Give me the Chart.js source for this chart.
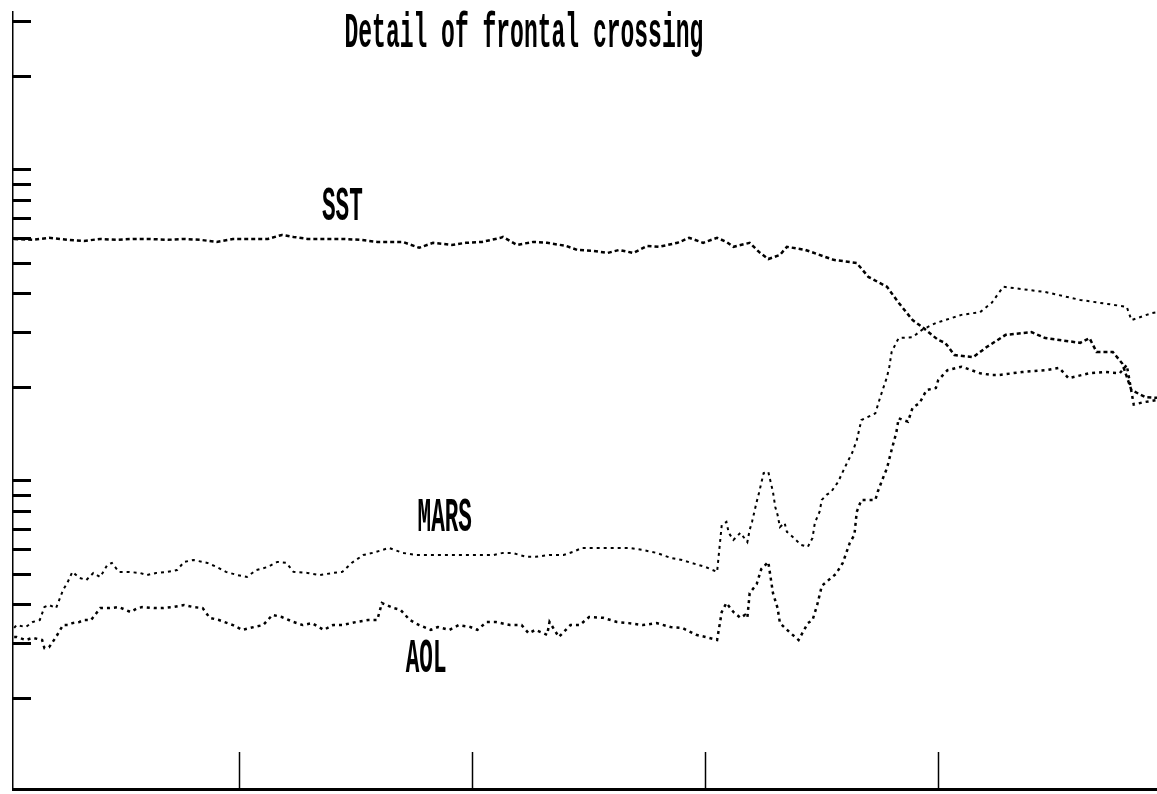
<!DOCTYPE html>
<html>
<head>
<meta charset="utf-8">
<script src="https://cdn.jsdelivr.net/npm/chart.js@4.4.1/dist/chart.umd.min.js"></script>
<style>
  html, body { margin: 0; padding: 0; background: #fff; }
  #wrap { width: 1157px; height: 794px; }
</style>
</head>
<body>
<div id="wrap"><canvas id="c" width="1157" height="794"></canvas></div>
<script>
// ---- data (x: along-track units, y: log-scaled values) ----
const sstX = [0.03,0.11,0.18,0.26,0.33,0.40,0.47,0.54,0.61,0.69,0.76,0.83,0.90,0.97,1.04,1.12,1.18,1.23,1.29,1.36,1.44,1.52,1.59,1.66,1.70,1.77,1.83,1.91,1.97,2.04,2.12,2.13,2.19,2.26,2.32,2.40,2.45,2.52,2.58,2.63,2.69,2.75,2.80,2.88,2.93,2.99,3.05,3.09,3.12,3.19,3.23,3.27,3.32,3.35,3.43,3.55,3.65,3.70,3.78,3.83,3.89,3.93,4.00,4.03,4.07,4.15,4.21,4.29,4.40,4.46,4.61,4.65,4.68,4.75,4.79,4.83,4.89,4.94];
const sstY = [6.00,5.96,6.05,5.96,5.91,6.00,5.96,6.00,6.00,5.96,6.00,5.96,5.87,6.00,6.00,6.00,6.18,6.09,6.00,6.00,6.00,5.96,5.87,5.87,5.87,5.62,5.83,5.74,5.83,5.87,6.05,6.09,5.74,5.87,5.83,5.70,5.53,5.49,5.41,5.53,5.41,5.70,5.66,5.83,6.05,5.83,6.05,5.87,5.66,5.83,5.45,5.17,5.33,5.66,5.53,5.14,5.02,4.53,4.21,3.74,3.29,3.13,2.84,2.78,2.54,2.50,2.70,2.95,3.01,2.88,2.78,2.88,2.60,2.60,2.39,1.96,1.86,1.85];

const marsX = [0.03,0.04,0.08,0.11,0.14,0.16,0.18,0.21,0.24,0.26,0.28,0.31,0.34,0.37,0.40,0.43,0.45,0.48,0.52,0.57,0.60,0.64,0.69,0.73,0.76,0.80,0.86,0.90,0.94,0.99,1.03,1.07,1.12,1.16,1.20,1.23,1.29,1.34,1.40,1.44,1.48,1.53,1.57,1.64,1.70,1.76,1.85,1.93,2.02,2.09,2.13,2.17,2.23,2.27,2.33,2.39,2.43,2.47,2.53,2.59,2.67,2.73,2.79,2.85,2.90,2.94,3.00,3.05,3.07,3.09,3.10,3.12,3.15,3.18,3.19,3.20,3.22,3.23,3.24,3.25,3.27,3.28,3.29,3.30,3.31,3.32,3.34,3.35,3.38,3.41,3.44,3.46,3.47,3.49,3.50,3.52,3.54,3.57,3.59,3.61,3.63,3.65,3.67,3.73,3.75,3.78,3.79,3.80,3.83,3.89,3.93,3.99,4.10,4.18,4.23,4.26,4.28,4.46,4.61,4.81,4.83,4.92,4.94];
const marsY = [0.337,0.344,0.339,0.352,0.357,0.393,0.399,0.390,0.446,0.473,0.510,0.488,0.480,0.506,0.491,0.537,0.545,0.510,0.510,0.506,0.498,0.506,0.510,0.517,0.549,0.557,0.545,0.529,0.510,0.498,0.491,0.517,0.529,0.549,0.545,0.510,0.506,0.498,0.506,0.510,0.545,0.578,0.587,0.609,0.587,0.578,0.578,0.578,0.578,0.578,0.587,0.587,0.570,0.570,0.578,0.578,0.591,0.609,0.609,0.609,0.609,0.600,0.587,0.566,0.557,0.545,0.529,0.510,0.722,0.738,0.681,0.646,0.681,0.636,0.696,0.738,0.856,0.915,0.985,1.06,1.07,0.993,0.922,0.825,0.777,0.711,0.733,0.686,0.656,0.623,0.614,0.656,0.733,0.795,0.869,0.902,0.922,0.993,1.07,1.15,1.23,1.35,1.57,1.65,1.85,2.16,2.33,2.60,2.88,2.90,3.06,3.22,3.42,3.49,3.74,4.02,4.21,4.05,3.82,3.63,3.29,3.47,3.49];

const aolX = [0.03,0.04,0.08,0.11,0.15,0.16,0.18,0.21,0.24,0.26,0.28,0.31,0.33,0.36,0.40,0.44,0.48,0.53,0.56,0.58,0.63,0.67,0.71,0.76,0.80,0.84,0.87,0.91,0.97,1.01,1.06,1.10,1.14,1.18,1.23,1.27,1.31,1.36,1.40,1.44,1.50,1.55,1.59,1.61,1.66,1.69,1.73,1.77,1.82,1.85,1.90,1.94,1.99,2.02,2.06,2.10,2.16,2.21,2.24,2.27,2.32,2.33,2.37,2.42,2.46,2.50,2.56,2.62,2.67,2.73,2.79,2.85,2.90,2.96,3.00,3.05,3.07,3.09,3.12,3.15,3.17,3.18,3.19,3.22,3.24,3.27,3.29,3.31,3.32,3.36,3.40,3.44,3.46,3.48,3.50,3.54,3.56,3.59,3.62,3.64,3.65,3.67,3.73,3.74,3.76,3.78,3.80,3.82,3.83,3.87,3.89,3.92,3.95,3.99,4.00,4.04,4.10,4.18,4.23,4.26,4.36,4.46,4.52,4.56,4.65,4.72,4.78,4.81,4.84,4.88,4.94];
const aolY = [0.315,0.315,0.308,0.313,0.308,0.290,0.292,0.315,0.344,0.344,0.349,0.352,0.357,0.357,0.390,0.390,0.393,0.379,0.390,0.393,0.390,0.390,0.393,0.399,0.393,0.390,0.363,0.357,0.344,0.332,0.339,0.344,0.371,0.365,0.352,0.344,0.349,0.332,0.344,0.344,0.352,0.357,0.357,0.405,0.390,0.385,0.357,0.344,0.332,0.339,0.332,0.344,0.339,0.332,0.352,0.352,0.344,0.344,0.324,0.332,0.320,0.352,0.315,0.344,0.344,0.365,0.363,0.352,0.349,0.344,0.349,0.339,0.337,0.320,0.315,0.308,0.379,0.405,0.379,0.363,0.371,0.363,0.436,0.466,0.521,0.549,0.436,0.390,0.349,0.327,0.308,0.349,0.357,0.399,0.460,0.488,0.502,0.545,0.632,0.671,0.795,0.869,0.869,0.922,1.01,1.10,1.26,1.43,1.59,1.55,1.72,1.78,1.96,1.99,2.11,2.27,2.33,2.22,2.19,2.19,2.24,2.27,2.31,2.14,2.22,2.24,2.22,2.36,1.76,1.79,1.82];

const xTickValues = [1, 2, 3, 4];
const yTickValues = [0.2,0.3,0.4,0.5,0.6,0.7,0.8,0.9,1,2,3,4,5,6,7,8,9,10,20,30];

const titleText = 'Detail of frontal crossing';
const labelTexts = ['SST', 'MARS', 'AOL'];
const labelX = [1.44, 1.88, 1.80];
const labelY = [6.9, 0.691, 0.243];
const titleAt = [2.22, 24.9];

// ---- helpers ----
function pts(xs, ys) { return xs.map((x, i) => ({ x: x, y: ys[i] })); }

function drawCondensed(ctx, text, cx, by, size, advance) {
  ctx.save();
  ctx.font = 'bold ' + size + 'px "Liberation Mono", "DejaVu Sans Mono", monospace';
  const w = ctx.measureText(text).width;
  const sx = (advance * text.length) / w;
  ctx.translate(cx, by);
  ctx.scale(sx, 1);
  ctx.textAlign = 'center';
  ctx.textBaseline = 'alphabetic';
  ctx.fillStyle = '#000';
  ctx.fillText(text, 0, 0);
  ctx.restore();
}

const textPlugin = {
  id: 'plotterText',
  afterDraw(chart) {
    const ctx = chart.ctx, xs = chart.scales.x, ys = chart.scales.y;
    drawCondensed(ctx, titleText, xs.getPixelForValue(titleAt[0]), ys.getPixelForValue(titleAt[1]), 50, 13.8);
    labelTexts.forEach((t, i) => {
      drawCondensed(ctx, t, xs.getPixelForValue(labelX[i]), ys.getPixelForValue(labelY[i]), 48, 13.6);
    });
  }
};

const lineStyle = (dash, w) => ({
  borderColor: '#000', borderWidth: w, borderDash: dash,
  pointRadius: 0, tension: 0, fill: false
});

new Chart(document.getElementById('c'), {
  type: 'line',
  data: {
    datasets: [
      Object.assign({ label: 'SST', data: pts(sstX, sstY) }, lineStyle([4, 3], 2.5)),
      Object.assign({ label: 'MARS', data: pts(marsX, marsY) }, lineStyle([3, 4], 2)),
      Object.assign({ label: 'AOL', data: pts(aolX, aolY) }, lineStyle([3, 4], 2.5))
    ]
  },
  options: {
    responsive: false,
    animation: false,
    devicePixelRatio: 1,
    layout: { padding: { top: 12, right: 0, bottom: 0, left: 0 } },
    plugins: { legend: { display: false }, title: { display: false }, tooltip: { enabled: false } },
    scales: {
      x: {
        type: 'linear', position: 'bottom', min: 0.025, max: 4.94,
        afterBuildTicks: (s) => { s.ticks = xTickValues.map(v => ({ value: v })); },
        afterFit: (s) => { s.height = 5; },
        ticks: { display: false },
        grid: { drawOnChartArea: false, drawTicks: true, tickLength: -37, tickWidth: 1.5, tickColor: '#000' },
        border: { display: true, color: '#000', width: 3 }
      },
      y: {
        type: 'logarithmic', position: 'left', min: 0.1022, max: 32.2,
        afterBuildTicks: (s) => { s.ticks = yTickValues.map(v => ({ value: v })); },
        afterFit: (s) => { s.width = 13; },
        ticks: { display: false },
        grid: { drawOnChartArea: false, drawTicks: true, tickLength: -18, tickWidth: 3, tickColor: '#000' },
        border: { display: true, color: '#000', width: 1.5 }
      }
    }
  },
  plugins: [textPlugin]
});
</script>
</body>
</html>
